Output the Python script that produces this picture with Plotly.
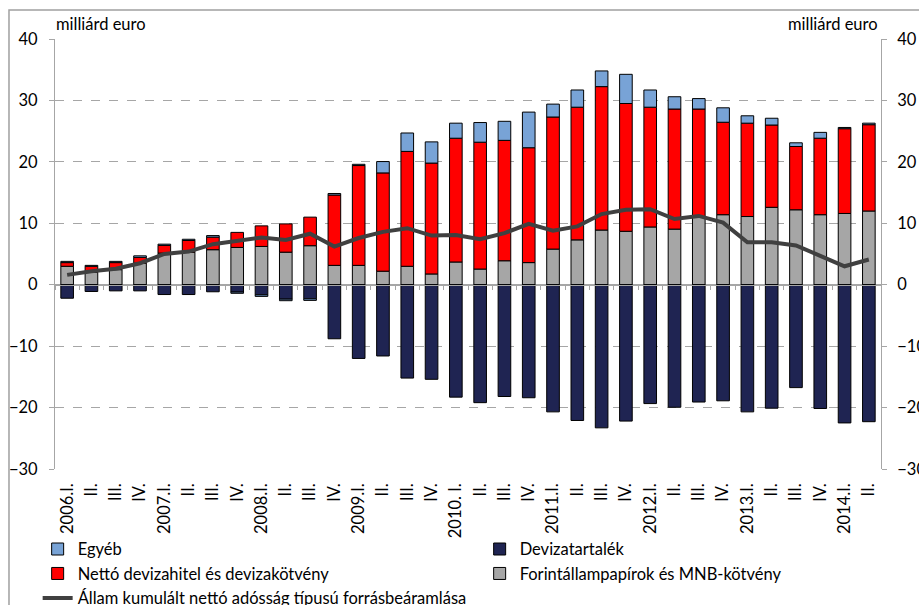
import plotly.graph_objects as go

labels = ["2006.I.", "II.", "III.", "IV.", "2007.I.", "II.", "III.", "IV.",
          "2008.I.", "II.", "III.", "IV.", "2009.I.", "II.", "III.", "IV.",
          "2010. I.", "II.", "III.", "IV.", "2011.I.", "II.", "III.", "IV.",
          "2012.I.", "II.", "III.", "IV.", "2013.I.", "II.", "III.", "IV.",
          "2014.I.", "II."]

forint = [3.0, 2.0, 2.45, 3.5, 5.15, 5.3, 5.7, 6.07, 6.23, 5.3, 6.35, 3.15,
          3.15, 2.2, 3.0, 1.75, 3.7, 2.55, 3.9, 3.6, 5.8, 7.3, 8.9, 8.7,
          9.4, 9.05, 11.1, 11.4, 11.1, 12.6, 12.2, 11.4, 11.6, 12.0]

netto_deviza = [0.6, 1.0, 1.15, 0.95, 1.25, 1.9, 2.05, 2.45, 3.35, 4.6, 4.65, 11.45,
                16.25, 16.0, 18.7, 18.05, 20.15, 20.65, 19.6, 18.7, 21.5, 21.6, 23.35, 20.8,
                19.5, 19.55, 17.5, 15.05, 15.2, 13.4, 10.3, 12.45, 13.8, 14.05]

devizatartalek = [-2.2, -1.1, -1.0, -1.0, -1.6, -1.6, -1.15, -1.2, -1.65, -2.35, -2.3, -8.8,
                  -12.0, -11.6, -15.2, -15.4, -18.3, -19.2, -18.2, -18.4, -20.7, -22.1, -23.3, -22.2,
                  -19.35, -19.95, -19.1, -18.9, -20.7, -20.1, -16.75, -20.15, -22.5, -22.3]

egyeb = [0.2, 0.15, 0.2, 0.25, 0.2, 0.2, 0.25, -0.2, -0.25, -0.25, -0.25, 0.25,
         0.2, 1.85, 3.0, 3.45, 2.45, 3.2, 3.1, 5.8, 2.1, 2.8, 2.55, 4.75,
         2.8, 2.0, 1.7, 2.35, 1.2, 1.1, 0.6, 0.95, 0.2, 0.25]

allam = [1.6, 2.2, 2.6, 3.5, 5.0, 5.4, 6.6, 7.15, 7.7, 7.3, 8.3, 6.2,
         7.6, 8.6, 9.2, 8.0, 8.1, 7.4, 8.4, 9.9, 8.8, 9.5, 11.5, 12.2,
         12.3, 10.7, 11.2, 10.1, 6.9, 6.9, 6.4, 4.7, 3.0, 4.1]

y_ticks = [-30, -20, -10, 0, 10, 20, 30, 40]
unit_label = "milliárd euro"

x = list(range(len(labels)))
boundaries = [i - 0.5 for i in range(len(labels) + 1)]
y_range = [-30, 40]
x_range = [-0.5, len(labels) - 0.5]

FONT = "Lato"
TXT = "#000000"
AXC = "#a6a6a6"

fig = go.Figure()
bar_line = dict(color="#000000", width=1)
fig.add_trace(go.Bar(x=x, y=forint, name="Forintállampapírok és MNB-kötvény",
                     marker=dict(color="#a6a6a6", line=bar_line), width=0.52, legendrank=4))
fig.add_trace(go.Bar(x=x, y=netto_deviza, name="Nettó devizahitel és devizakötvény",
                     marker=dict(color="#ff0000", line=bar_line), width=0.52, legendrank=3))
fig.add_trace(go.Bar(x=x, y=devizatartalek, name="Devizatartalék",
                     marker=dict(color="#1f2452", line=bar_line), width=0.52, legendrank=2))
fig.add_trace(go.Bar(x=x, y=egyeb, name="Egyéb",
                     marker=dict(color="#78a3d6", line=bar_line), width=0.52, legendrank=1))
fig.add_trace(go.Scatter(x=x, y=allam, name="Állam kumulált nettó adósság típusú forrásbeáramlása",
                         mode="lines", line=dict(color="#404040", width=4),
                         xaxis="x2", yaxis="y2", legendrank=5))

zero_pos = (0 - y_range[0]) / (y_range[1] - y_range[0])

fig.update_layout(
    width=919, height=605,
    margin=dict(l=55, r=38, t=39, b=136, autoexpand=False),
    paper_bgcolor="white", plot_bgcolor="white",
    barmode="relative", bargap=0.48,
    font=dict(family=FONT, size=16, color=TXT),
    showlegend=True,
    legend=dict(orientation="h", x=-0.021, xanchor="left", y=-0.146, yanchor="top",
                entrywidth=397, entrywidthmode="pixels", traceorder="normal",
                font=dict(family=FONT, size=16.5, color=TXT), bgcolor="rgba(0,0,0,0)",
                itemclick=False),
    xaxis=dict(range=x_range, tickmode="array", tickvals=x, ticktext=labels,
               tickangle=-90, showgrid=False, zeroline=False, showline=False,
               ticks="", ticklabelstandoff=10, tickfont=dict(family=FONT, size=16.5, color=TXT)),
    xaxis2=dict(range=x_range, overlaying="x", anchor="free", position=zero_pos,
                tickmode="array", tickvals=boundaries, showticklabels=False,
                ticks="outside", ticklen=4, tickcolor=AXC, tickwidth=1,
                showline=True, linecolor=AXC, linewidth=1, showgrid=False, zeroline=False),
    yaxis=dict(range=y_range, tickmode="array", tickvals=y_ticks,
               showgrid=True, gridcolor="#a6a6a6", griddash="dash", gridwidth=1,
               zeroline=True, zerolinecolor=AXC, zerolinewidth=1,
               showline=True, linecolor=AXC, linewidth=1,
               ticks="outside", ticklen=5, tickcolor=AXC, ticklabelstandoff=8,
               tickfont=dict(family=FONT, size=16.5, color=TXT)),
    yaxis2=dict(range=y_range, overlaying="y", side="right", anchor="x",
                tickmode="array", tickvals=y_ticks, showgrid=False, zeroline=False,
                showline=True, linecolor=AXC, linewidth=1,
                ticks="outside", ticklen=5, tickcolor=AXC, ticklabelstandoff=7,
                tickfont=dict(family=FONT, size=16.5, color=TXT)),
    shapes=[dict(type="rect", xref="paper", yref="paper",
                 x0=-0.0557, x1=1.2, y0=-0.5, y1=1.0674,
                 line=dict(color="#a0a0a0", width=1.5), fillcolor="rgba(0,0,0,0)",
                 layer="above")],
    annotations=[
        dict(text=unit_label, xref="paper", yref="paper", x=-0.0012, y=1.035,
             xanchor="left", yanchor="middle", showarrow=False,
             font=dict(family=FONT, size=16.5, color=TXT)),
        dict(text=unit_label, xref="paper", yref="paper", x=0.999, y=1.035,
             xanchor="right", yanchor="middle", showarrow=False,
             font=dict(family=FONT, size=16.5, color=TXT)),
    ],
)

fig.write_html("out.html", config={"displayModeBar": False},
               post_script="document.body.style.margin='0px';document.body.style.overflow='hidden';")
